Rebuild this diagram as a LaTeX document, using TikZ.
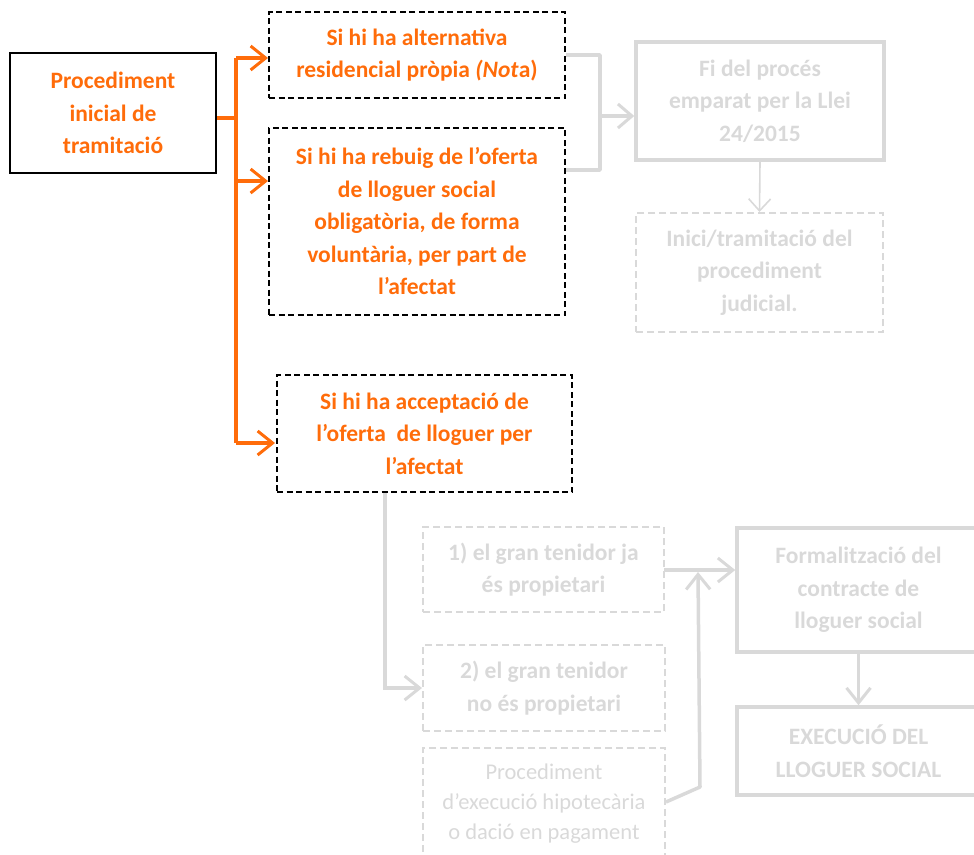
\documentclass[tikz,border=0pt]{standalone}
\usepackage{fontspec}
\setmainfont{Carlito}
\usetikzlibrary{arrows.meta}
\definecolor{orangeA}{RGB}{255,108,10}
\definecolor{greyA}{RGB}{217,217,217}
\tikzset{
  txt/.style={font=\fontsize{23.5}{32.5}\selectfont\bfseries, align=center, inner sep=0pt},
  blackbox/.style={txt, draw=black, line width=2.5pt, text=orangeA},
  dashbox/.style={txt, draw=black, line width=2pt, dash pattern=on 6pt off 3.5pt, text=orangeA},
  greybox/.style={txt, draw=greyA, line width=3.5pt, text=greyA},
  greydash/.style={txt, draw=greyA, line width=2pt, dash pattern=on 7pt off 4pt, text=greyA},
  barb/.tip={Straight Barb[length=15pt,width=24pt,line width=3pt]},
  oline/.style={draw=orangeA, line width=3.5pt},
  gline/.style={draw=greyA, line width=3.5pt},
}
\begin{document}
\begin{tikzpicture}[x=1pt,y=-1pt]
\useasboundingbox (0,0) rectangle (974,854);

% orange start box and the three dashed alternatives
\node[blackbox, minimum width=206pt, minimum height=120pt] (proc) at (113,113) {Procediment\\inicial de\\tramitació};
\node[dashbox, minimum width=296pt, minimum height=86pt] (altA) at (417,55) {Si hi ha alternativa\\residencial pròpia \textit{(Not}a)};
\node[dashbox, minimum width=296pt, minimum height=187pt] (altB) at (417,221.5) {Si hi ha rebuig de l’oferta\\de lloguer social\\obligatòria, de forma\\voluntària, per part de\\l’afectat};
\node[dashbox, minimum width=295pt, minimum height=117pt] (altC) at (424.5,433.5) {Si hi ha acceptació de\\l’oferta\ \ de lloguer per\\l’afectat};

% grey outcome boxes
\node[greybox, minimum width=248pt, minimum height=118pt] (fi) at (760,101) {Fi del procés\\emparat per la Llei\\24/2015};
\node[greydash, minimum width=247pt, minimum height=119pt] (inici) at (759.5,272.5) {Inici/tramitació del\\procediment\\judicial.};
\node[greydash, minimum width=241pt, minimum height=85pt] (own) at (543.5,569.5) {1) el gran tenidor ja\\és propietari};
\node[greydash, minimum width=242pt, minimum height=86pt] (notown) at (544,688) {2) el gran tenidor\\no és propietari};
\node[greydash, minimum width=242pt, minimum height=112pt, font=\fontsize{22.5}{30}\selectfont] (exec) at (544,804) {Procediment\\d’execució hipotecària\\o dació en pagament};
\node[greybox, minimum width=243pt, minimum height=124pt] (form) at (858.5,590) {Formalització del\\contracte de\\lloguer social};
\node[greybox, minimum width=243pt, minimum height=88pt] (social) at (858.5,751) {EXECUCIÓ DEL\\LLOGUER SOCIAL};

% orange branching
\coordinate (tj) at (236,118);
\coordinate (tA) at (236,58);
\coordinate (tB) at (236,181);
\coordinate (tC) at (236,443);
\draw[oline] (proc.east |- tj) -- (tj);
\draw[oline] (tA) -- (tC);
\draw[oline, -barb] (tA) -- (altA.west |- tA);
\draw[oline, -barb] (tB) -- (altB.west |- tB);
\draw[oline, -barb, shorten >=1pt] (tC) -- (altC.west |- tC);

% grey bracket towards the end of the process
\coordinate (bA) at (600,55);
\coordinate (bB) at (600,170);
\coordinate (bM) at (600,116);
\draw[gline, line join=round] (altA.east |- bA) -- (bA) -- (bB) -- (altB.east |- bB);
\draw[gline, -{Straight Barb[length=14pt,width=24pt,line width=3pt]}] (bM) -- (fi.west |- bM);
\draw[draw=greyA, line width=1.6pt, -{Straight Barb[length=12pt,width=22pt,line width=1.6pt]}] (fi.south) -- (inici.north);

% grey lower flow
\coordinate (cD) at (385,688);
\draw[gline, -barb] (altC.south -| cD) -- (cD) -- (notown.west |- cD);
\coordinate (oR) at (664,570);
\draw[gline, -barb] (oR) -- (form.west |- oR);
\coordinate (eR) at (665,802);
\coordinate (eK) at (700,787);
\coordinate (eT) at (698,572);
\draw[gline, -barb, line join=round] (exec.east |- eR) -- (eK) -- (eT);
\draw[gline, -barb] (form.south) -- (social.north);
\end{tikzpicture}
\end{document}
